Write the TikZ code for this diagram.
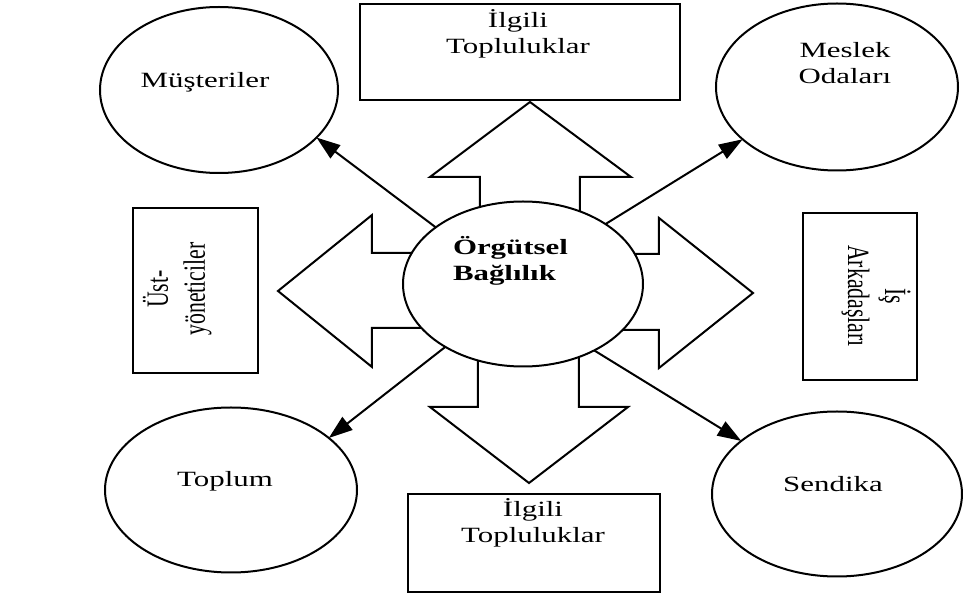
\documentclass[tikz,border=0pt]{standalone}
\usepackage{fontspec}
\setmainfont{Liberation Serif}
\usepackage{graphicx}
\usetikzlibrary{arrows.meta,shapes.geometric}

% the scan is stretched sideways, so the labels are too
\newcommand{\wide}[1]{\scalebox{1.42}[1]{\begin{tabular}{@{}c@{}}#1\end{tabular}}}
\newcommand{\wideleft}[1]{\scalebox{1.42}[1]{\begin{tabular}{@{}l@{}}#1\end{tabular}}}
\newcommand{\tall}[1]{\scalebox{1}[1.42]{\begin{tabular}{@{}c@{}}#1\end{tabular}}}

\begin{document}
\begin{tikzpicture}[x=0.4pt,y=-0.4pt,line width=0.8pt,
  >={Triangle[length=9.5pt,width=6.5pt]},
  oval/.style={draw,ellipse,fill=white,inner sep=0pt,outer sep=0pt},
  box/.style={draw,rectangle,inner sep=0pt,outer sep=0pt},
  lbl/.style={inner sep=0pt,font=\fontsize{8.7}{10.4}\selectfont}]
  \useasboundingbox (0,0) rectangle (963,599);
  %
  % Block arrows (drawn first, the central ellipse covers their shafts)
  \draw[line join=miter] (480,260) -- (480,177) -- (430,177) -- (530,102)
    -- (631,177) -- (580,177) -- (580,260);
  \draw[line join=miter] (478,310) -- (478,407) -- (430,407) -- (529,483)
    -- (628,407) -- (579,407) -- (579,310);
  \draw[line join=miter] (430,253) -- (372,253) -- (372,215) -- (278,291)
    -- (372,367) -- (372,328) -- (430,328);
  \draw[line join=miter] (620,254) -- (659,254) -- (659,218) -- (753,293)
    -- (659,368) -- (659,330) -- (620,330);
  %
  % Central ellipse
  \node[oval,minimum width=240*0.4pt,minimum height=165*0.4pt] (core) at (523,284) {};
  \node[lbl,anchor=west] (coreT) at (452,262) {\wideleft{\textbf{Örgütsel}\\\textbf{Bağlılık}}};
  %
  % Boxes
  \node[box,minimum width=320*0.4pt,minimum height=96*0.4pt] (upper) at (520,52) {};
  \node[lbl] (upperT) at (518,35) {\wide{İlgili\\Topluluklar}};
  \node[box,minimum width=252*0.4pt,minimum height=98*0.4pt] (lower) at (534,543) {};
  \node[lbl] (lowerT) at (533,524) {\wide{İlgili\\Topluluklar}};
  \node[box,minimum width=125*0.4pt,minimum height=165*0.4pt] (ust) at (195.5,290.5) {};
  \node[lbl,rotate=90] (ustT) at (179,289) {\tall{Üst-\\yöneticiler}};
  \node[box,minimum width=114*0.4pt,minimum height=167*0.4pt] (is) at (860,296.5) {};
  \node[lbl,rotate=-90] (isT) at (874,296) {\tall{İş\\Arkadaşları}};
  %
  % Outer ellipses
  \node[oval,minimum width=238*0.4pt,minimum height=166*0.4pt] (mus) at (219,90) {};
  \node[lbl] (musT) at (205,82) {\wide{Müşteriler}};
  \node[oval,minimum width=242*0.4pt,minimum height=167*0.4pt] (meslek) at (837,87) {};
  \node[lbl] (meslekT) at (845,65) {\wide{Meslek\\Odaları}};
  \node[oval,minimum width=252*0.4pt,minimum height=165*0.4pt] (toplum) at (231,490) {};
  \node[lbl] (toplumT) at (225,481) {\wide{Toplum}};
  \node[oval,minimum width=250*0.4pt,minimum height=165*0.4pt] (sendika) at (837,494) {};
  \node[lbl] (sendikaT) at (833,486) {\wide{Sendika}};
  %
  % Thin arrows
  \draw[->] (core.147) -- (mus.-26);
  \draw[->] (core.36) -- (meslek.209);
  \draw[->] (core.219) -- (toplum.28);
  \draw[->] (core.317) -- (sendika.151);
\end{tikzpicture}
\end{document}
